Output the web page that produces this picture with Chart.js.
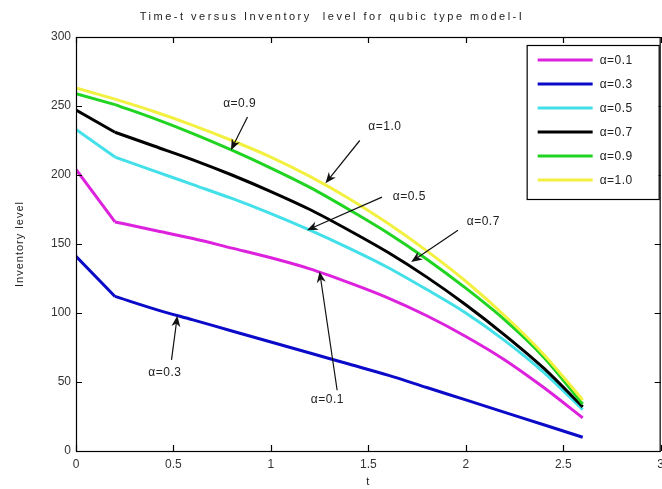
<!DOCTYPE html>
<html>
<head>
<meta charset="utf-8">
<script src="https://cdn.jsdelivr.net/npm/chart.js@4.4.1/dist/chart.umd.min.js"></script>
<style>
  html, body { margin: 0; padding: 0; background: #fff; }
  #wrap { width: 662px; height: 489px; }
</style>
</head>
<body>
<div id="wrap"><canvas id="c" width="662" height="489"></canvas></div>
<script>
/* ===== inventory level vs time, cubic model (one curve per alpha) ===== */
var T_VALUES = [0, 0.2, 0.4, 0.6, 0.8, 1.0, 1.2, 1.4, 1.6, 1.8, 2.0, 2.2, 2.4, 2.6];
var INV_A01 = [204, 166, 160, 154, 147, 140, 132, 122, 111, 98, 83, 66, 46, 24];
var INV_A03 = [141, 112, 103, 95, 87, 79, 71, 63, 55, 46, 37, 28, 19, 10];
var INV_A05 = [233, 213, 203, 193, 183, 172, 160, 147, 133, 117, 100, 80, 57, 30];
var INV_A07 = [247, 231, 221, 211, 200, 188, 175, 160, 144, 126, 106, 84, 60, 32];
var INV_A09 = [259, 251, 241, 230, 218, 205, 191, 175, 158, 139, 118, 95, 68, 34];
var INV_A10 = [263, 255, 246, 236, 225, 213, 199, 183, 165, 145, 123, 98, 70, 37];
var SERIES_LABELS = ["α=0.1", "α=0.3", "α=0.5", "α=0.7", "α=0.9", "α=1.0"];
var X_TICKS = [0, 0.5, 1, 1.5, 2, 2.5, 3];
var Y_TICKS = [0, 50, 100, 150, 200, 250, 300];

// callouts: label position + arrow tail/head, all in data units (t, level)
var NOTES = [
  { text: "α=0.9", t: 0.84, v: 252, t0: 0.88, v0: 242, t1: 0.795, v1: 218 },
  { text: "α=1.0", t: 1.585, v: 235, t0: 1.456, v0: 225, t1: 1.28, v1: 194 },
  { text: "α=0.5", t: 1.71, v: 184, t0: 1.57, v0: 184, t1: 1.185, v1: 160 },
  { text: "α=0.7", t: 2.09, v: 166, t0: 1.96, v0: 160, t1: 1.72, v1: 137 },
  { text: "α=0.3", t: 0.456, v: 57, t0: 0.49, v0: 66, t1: 0.52, v1: 98 },
  { text: "α=0.1", t: 1.29, v: 37, t0: 1.34, v0: 44, t1: 1.25, v1: 130 }
];

var COLORS = ["#dd22dd", "#0a0ac8", "#44e0ea", "#000000", "#22d422", "#f2f040"];
var FONT = "'Liberation Sans', Arial, sans-serif";

function pts(arr, from, to) {
  var r = [];
  for (var i = from; i < to; i++) r.push({ x: T_VALUES[i], y: arr[i] });
  return r;
}

// each curve: straight first step (sharp corner at t=0.2) + smooth remainder
var seriesData = [INV_A01, INV_A03, INV_A05, INV_A07, INV_A09, INV_A10];
var datasets = [];
seriesData.forEach(function (arr, i) {
  datasets.push({
    label: SERIES_LABELS[i], data: pts(arr, 1, arr.length), borderColor: COLORS[i], backgroundColor: COLORS[i],
    borderWidth: 3, pointRadius: 0, cubicInterpolationMode: "monotone", fill: false, order: 6 - i
  });
});
seriesData.forEach(function (arr, i) {
  datasets.push({
    label: SERIES_LABELS[i] + " start", data: pts(arr, 0, 2), borderColor: COLORS[i], backgroundColor: COLORS[i],
    borderWidth: 3, pointRadius: 0, tension: 0, fill: false, order: 6 - i, inLegend: false
  });
});

function arrow(ctx, x0, y0, x1, y1) {
  var ang = Math.atan2(y1 - y0, x1 - x0), L = 11, W = 4.5;
  ctx.beginPath(); ctx.moveTo(x0, y0); ctx.lineTo(x1 - Math.cos(ang) * 6, y1 - Math.sin(ang) * 6); ctx.stroke();
  ctx.beginPath();
  ctx.moveTo(x1, y1);
  ctx.lineTo(x1 - L * Math.cos(ang) + W * Math.sin(ang), y1 - L * Math.sin(ang) - W * Math.cos(ang));
  ctx.lineTo(x1 - L * 0.7 * Math.cos(ang), y1 - L * 0.7 * Math.sin(ang));
  ctx.lineTo(x1 - L * Math.cos(ang) - W * Math.sin(ang), y1 - L * Math.sin(ang) + W * Math.cos(ang));
  ctx.closePath(); ctx.fill();
}

var decor = {
  id: "decor",
  afterDatasetsDraw: function (chart) {
    var ctx = chart.ctx, a = chart.chartArea, xs = chart.scales.x, ys = chart.scales.y;
    ctx.save();
    // box + inward ticks
    ctx.strokeStyle = "#000"; ctx.lineWidth = 1.2;
    ctx.strokeRect(a.left + 0.5, a.top + 0.5, a.right - a.left - 1, a.bottom - a.top);
    ctx.beginPath();
    X_TICKS.forEach(function (t) {
      var px = Math.round(xs.getPixelForValue(t)) + 0.5;
      ctx.moveTo(px, a.bottom); ctx.lineTo(px, a.bottom - 6);
      ctx.moveTo(px, a.top); ctx.lineTo(px, a.top + 6);
    });
    Y_TICKS.forEach(function (v) {
      var py = Math.round(ys.getPixelForValue(v)) + 0.5;
      ctx.moveTo(a.left, py); ctx.lineTo(a.left + 6, py);
      ctx.moveTo(a.right, py); ctx.lineTo(a.right - 6, py);
    });
    ctx.stroke();

    // title + axis titles
    ctx.fillStyle = "#222"; ctx.textAlign = "center"; ctx.textBaseline = "middle";
    ctx.font = "11px " + FONT;
    ctx.letterSpacing = "2.5px";
    ctx.fillText("Time-t versus Inventory  level for qubic type model-I", 332, 17);
    ctx.letterSpacing = "1px";
    ctx.fillText("t", (a.left + a.right) / 2, 482);
    ctx.save(); ctx.translate(20, (a.top + a.bottom) / 2); ctx.rotate(-Math.PI / 2);
    ctx.fillText("Inventory level", 0, 0); ctx.restore();

    // callouts
    ctx.font = "12px " + FONT;
    ctx.letterSpacing = "0.5px";
    ctx.lineWidth = 1.2; ctx.strokeStyle = "#111"; ctx.fillStyle = "#111";
    NOTES.forEach(function (n) {
      arrow(ctx, xs.getPixelForValue(n.t0), ys.getPixelForValue(n.v0), xs.getPixelForValue(n.t1), ys.getPixelForValue(n.v1));
      ctx.fillStyle = "#222";
      ctx.fillText(n.text, xs.getPixelForValue(n.t), ys.getPixelForValue(n.v));
      ctx.fillStyle = "#111";
    });

    // legend box, top right inside plot
    var bw = 132, bh = 154, bx = a.right - bw - 2, by = a.top + 8;
    ctx.fillStyle = "#fff"; ctx.fillRect(bx, by, bw, bh);
    ctx.strokeStyle = "#000"; ctx.lineWidth = 1.2; ctx.strokeRect(bx + 0.5, by + 0.5, bw, bh);
    ctx.textAlign = "left";
    chart.data.datasets.filter(function (ds) { return ds.inLegend !== false; }).forEach(function (ds, i) {
      var ry = by + 15 + i * 24;
      ctx.strokeStyle = ds.borderColor; ctx.lineWidth = 3;
      ctx.beginPath(); ctx.moveTo(bx + 11, ry); ctx.lineTo(bx + 66, ry); ctx.stroke();
      ctx.fillStyle = "#222"; ctx.fillText(ds.label, bx + 73, ry + 1);
    });
    ctx.restore();
  }
};

new Chart(document.getElementById("c"), {
  type: "line",
  data: { datasets: datasets },
  options: {
    responsive: false, animation: false, devicePixelRatio: 1,
    layout: { padding: { top: 37, right: 1, left: 0, bottom: 0 } },
    plugins: { legend: { display: false }, title: { display: false }, tooltip: { enabled: false } },
    scales: {
      x: {
        type: "linear", min: 0, max: 3,
        afterBuildTicks: function (s) { s.ticks = X_TICKS.map(function (v) { return { value: v }; }); },
        ticks: { color: "#333", font: { size: 12, family: FONT }, padding: -2, maxRotation: 0, autoSkip: false,
          callback: function (v) { return String(v); } },
        grid: { display: false }, border: { display: false },
        afterFit: function (s) { s.height = 38; }
      },
      y: {
        min: 0, max: 300,
        afterBuildTicks: function (s) { s.ticks = Y_TICKS.map(function (v) { return { value: v }; }); },
        ticks: { color: "#333", font: { size: 12, family: FONT }, padding: -3 },
        grid: { display: false }, border: { display: false },
        afterFit: function (s) { s.width = 76; }
      }
    }
  },
  plugins: [decor]
});
</script>
</body>
</html>
